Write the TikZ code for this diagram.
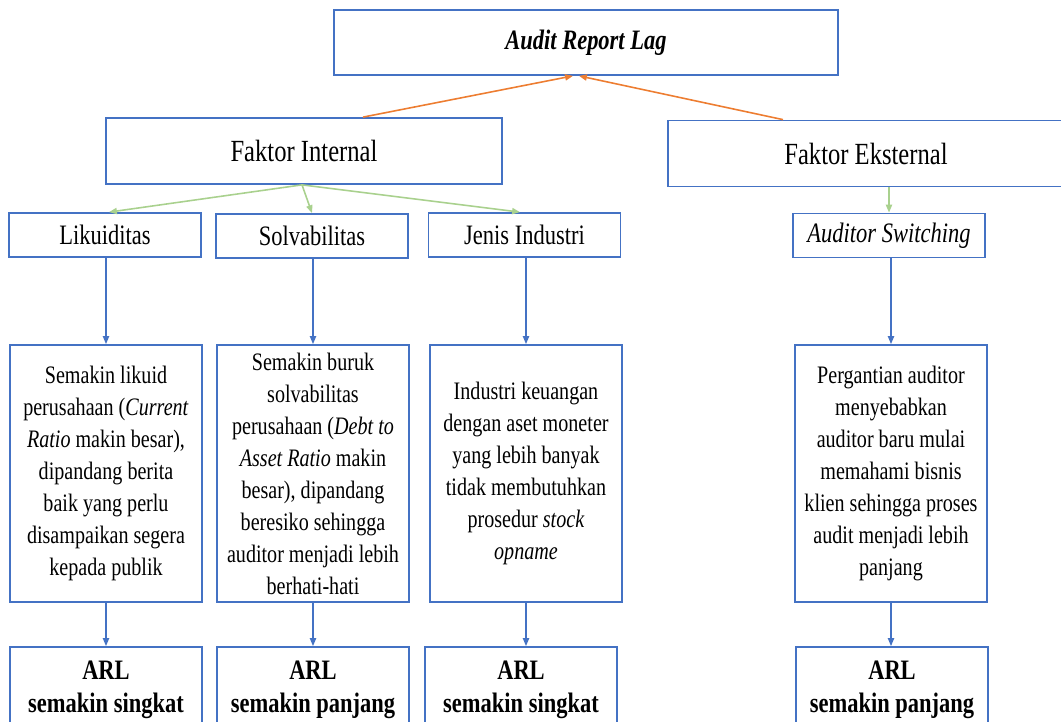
\documentclass[tikz,border=0pt]{standalone}
\usepackage{fontspec}
\setmainfont{Liberation Serif}[FakeStretch=0.8]
\usepackage{tikz}
\usetikzlibrary{arrows.meta,positioning,calc}

\definecolor{boxblue}{HTML}{4472C4}
\definecolor{linkgreen}{HTML}{A9D18E}
\definecolor{linkorange}{HTML}{ED7D31}

\tikzset{
  box/.style={draw=boxblue, line width=1pt, rectangle, align=center, inner sep=2pt},
  head/.style={box, minimum height=1.32cm, font=\fontsize{17.5}{21}\selectfont},
  var/.style={box, minimum width=3.84cm, minimum height=0.88cm, font=\fontsize{16}{19}\selectfont},
  desc/.style={box, minimum width=3.84cm, minimum height=5.14cm, font=\fontsize{14.3}{18.2}\selectfont},
  result/.style={box, minimum width=3.84cm, minimum height=1.72cm, font=\bfseries\fontsize{16}{18.5}\selectfont},
  toorange/.style={-{Triangle[length=4.5pt,width=3.5pt]}, linkorange, line width=0.9pt},
  togreen/.style={-{Triangle[length=4.5pt,width=3.5pt]}, linkgreen, line width=0.9pt},
  toblue/.style={-{Triangle[length=4.5pt,width=3.5pt]}, boxblue, line width=0.8pt}
}

\begin{document}
\begin{tikzpicture}
\useasboundingbox (0,0) rectangle (21.22,-14.44);

\node[box, minimum width=10.08cm, minimum height=1.3cm, font=\bfseries\itshape\fontsize{16}{19}\selectfont] (arl) at (11.72,-0.85) {Audit Report Lag};
\node[head, minimum width=7.92cm] (internal) at (6.08,-3.02) {Faktor Internal};
\node[head, minimum width=7.92cm] (eksternal) at (17.32,-3.07) {Faktor Eksternal};

\node[var] (likuid) at (2.10,-4.70) {Likuiditas};
\node[var] (solva) at (6.24,-4.72) {Solvabilitas};
\node[var] (jenis) at (10.49,-4.70) {Jenis Industri};
\node[var] (switch) at (17.78,-4.71) {\itshape Auditor Switching};

\node[desc] (likuiddesc) at (2.12,-9.47) {Semakin likuid\\perusahaan (\textit{Current}\\\textit{Ratio} makin besar),\\dipandang berita\\baik yang perlu\\disampaikan segera\\kepada publik};
\node[desc] (solvadesc) at (6.26,-9.47) {Semakin buruk\\solvabilitas\\perusahaan (\textit{Debt to}\\\textit{Asset Ratio} makin\\besar), dipandang\\beresiko sehingga\\auditor menjadi lebih\\berhati-hati};
\node[desc] (jenisdesc) at (10.52,-9.47) {Industri keuangan\\dengan aset moneter\\yang lebih banyak\\tidak membutuhkan\\prosedur \textit{stock}\\\textit{opname}};
\node[desc] (switchdesc) at (17.82,-9.47) {Pergantian auditor\\menyebabkan\\auditor baru mulai\\memahami bisnis\\klien sehingga proses\\audit menjadi lebih\\panjang};

\node[result] (likuidarl) at (2.12,-13.80) {ARL\\semakin singkat};
\node[result] (solvaarl) at (6.26,-13.80) {ARL\\semakin panjang};
\node[result] (jenisarl) at (10.42,-13.80) {ARL\\semakin singkat};
\node[result] (switcharl) at (17.84,-13.80) {ARL\\semakin panjang};

% factors to ARL
\draw[toorange] ([xshift=1.18cm]internal.north) -- ([xshift=-0.26cm]arl.south);
\draw[toorange] ([xshift=-1.66cm]eksternal.north) -- ([xshift=-0.14cm]arl.south);

% factors to variables
\draw[togreen] ([xshift=-0.04cm]internal.south) -- ([xshift=0.08cm]likuid.north);
\draw[togreen] ([xshift=-0.04cm]internal.south) -- (solva.north);
\draw[togreen] ([xshift=-0.04cm]internal.south) -- ([xshift=-0.09cm]jenis.north);
\draw[togreen] (eksternal.south -| switch.north) -- (switch.north);

% variables to results
\foreach \v in {likuid,solva,jenis,switch}{
  \draw[toblue] (\v.south -| \v desc.north) -- (\v desc.north);
  \draw[toblue] (\v desc.south) -- (\v desc.south |- \v arl.north);
}
\end{tikzpicture}
\end{document}
